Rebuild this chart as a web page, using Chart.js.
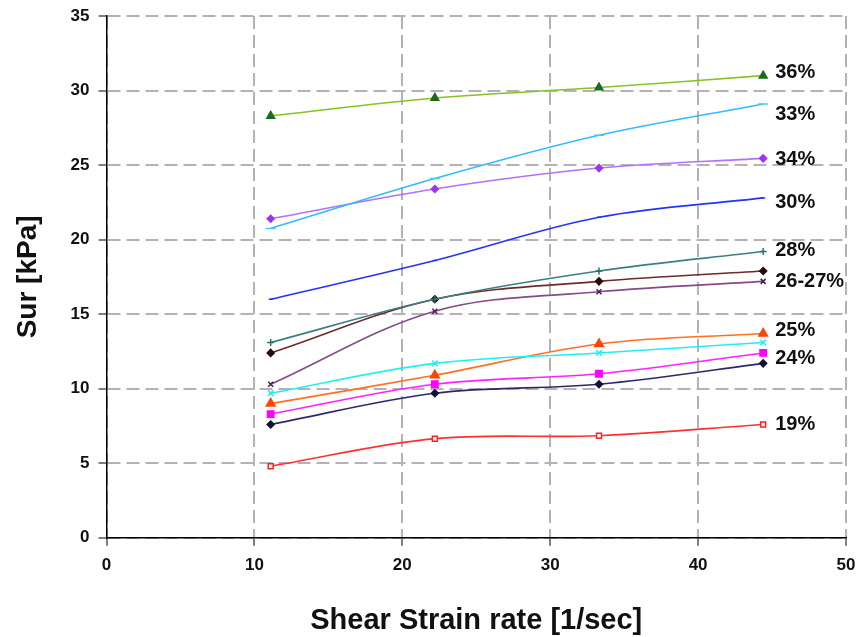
<!DOCTYPE html>
<html>
<head>
<meta charset="utf-8">
<script src="https://cdn.jsdelivr.net/npm/chart.js@4"></script>
<style>
  html, body { margin: 0; padding: 0; background: #fff; }
  #wrap { width: 856px; height: 637px; }
</style>
</head>
<body>
<div id="wrap"><canvas id="sur_chart"></canvas></div>
<script>
// shear strain rates (x) and undrained strength values (y) per water content
var strainRate = [11.1, 22.2, 33.3, 44.4];
var sur36 = [28.3, 29.5, 30.2, 31.0];
var sur33 = [20.75, 24.1, 27.0, 29.1];
var sur34 = [21.4, 23.4, 24.8, 25.45];
var sur30 = [16.0, 18.6, 21.5, 22.8];
var sur28 = [13.1, 16.0, 17.9, 19.2];
var sur27 = [12.4, 16.0, 17.2, 17.9];
var sur26 = [10.3, 15.2, 16.5, 17.2];
var surCyan = [9.7, 11.7, 12.4, 13.1];
var sur25 = [9.0, 10.9, 13.0, 13.7];
var sur24 = [8.3, 10.3, 11.0, 12.4];
var surNavy = [7.6, 9.7, 10.3, 11.7];
var sur19 = [4.8, 6.65, 6.85, 7.6];

// text labels written at the right end of the curves
var curveLabels = ["36%", "33%", "34%", "30%", "28%", "26-27%", "25%", "24%", "19%"];
var curveLabelY = [31.2, 28.4, 25.4, 22.5, 19.3, 17.2, 13.9, 12.0, 7.6];

function pts(ys) {
  return strainRate.map(function (x, i) { return { x: x, y: ys[i] }; });
}

function series(label, ys, line, marker, style, radius, fill) {
  return {
    label: label,
    data: pts(ys),
    borderColor: line,
    borderWidth: 1.6,
    tension: 0.35,
    fill: false,
    pointStyle: style,
    pointRadius: radius,
    pointBorderColor: marker,
    pointBackgroundColor: fill || marker,
    pointBorderWidth: 1.5
  };
}

var curveLabelPlugin = {
  id: 'curveLabels',
  afterDatasetsDraw: function (chart) {
    var c = chart.ctx;
    var xs = chart.scales.x, ys = chart.scales.y;
    c.save();
    c.font = 'bold 20px "Liberation Sans", Arial, sans-serif';
    c.fillStyle = '#111';
    c.textBaseline = 'middle';
    c.textAlign = 'left';
    var xPix = xs.getPixelForValue(strainRate[strainRate.length - 1]) + 12;
    curveLabels.forEach(function (t, i) {
      c.fillText(t, xPix, ys.getPixelForValue(curveLabelY[i]));
    });
    c.restore();
  }
};

var tickFont = { family: '"Liberation Sans", Arial, sans-serif', size: 17, weight: 'bold' };

var gridOpts = {
  color: '#b8b0b8',
  lineWidth: 2,
  tickColor: '#000',
  tickBorderDash: [],
  tickLength: 8,
  tickWidth: 1
};

var borderOpts = { display: true, color: '#000', width: 1.5, dash: [13, 6] };

var ctx = document.getElementById("sur_chart");

var surChart = new Chart(ctx, {
  type: 'line',
  data: {
    datasets: [
      series("36%", sur36, "#86c424", "#1b6b1b", "triangle", 4.5),
      series("33%", sur33, "#33bbff", "#44ccff", "line", 5),
      series("34%", sur34, "#b470ff", "#a033f0", "rectRot", 3.5),
      series("30%", sur30, "#2233ff", "#2233ff", "line", 2),
      series("28%", sur28, "#3a8080", "#2a7070", "cross", 3.5),
      series("27%", sur27, "#6e2a2a", "#2a0a0a", "rectRot", 3.5),
      series("26%", sur26, "#844a8c", "#4a1a50", "crossRot", 3.5),
      series("cyan", surCyan, "#22eef0", "#22eef0", "crossRot", 4),
      series("25%", sur25, "#ff7022", "#ff4400", "triangle", 5),
      series("24%", sur24, "#ff22ff", "#ff00ff", "rect", 4.5),
      series("navy", surNavy, "#2a2a6a", "#10103a", "rectRot", 3.5),
      series("19%", sur19, "#ff3030", "#ff2020", "rect", 3.5, "#ffffff")
    ]
  },
  options: {
    responsive: true,
    maintainAspectRatio: false,
    animation: false,
    layout: { padding: { left: 11, right: 10, top: 16, bottom: -1 } },
    plugins: {
      legend: { display: false },
      tooltip: { enabled: false }
    },
    scales: {
      x: {
        type: 'linear',
        min: 0,
        max: 50,
        afterFit: function (scale) { scale.paddingRight = 0; },
        ticks: { stepSize: 10, color: '#111', padding: 9, font: tickFont },
        grid: gridOpts,
        border: borderOpts,
        title: {
          display: true,
          text: 'Shear Strain rate [1/sec]',
          color: '#111',
          padding: { top: 19, bottom: 0 },
          font: { family: '"Liberation Sans", Arial, sans-serif', size: 29, weight: 'bold' }
        }
      },
      y: {
        min: 0,
        max: 35,
        afterFit: function (scale) { scale.paddingTop = 0; },
        ticks: { stepSize: 5, color: '#111', padding: 9, font: tickFont },
        grid: gridOpts,
        border: borderOpts,
        title: {
          display: true,
          text: 'Sur [kPa]',
          color: '#111',
          padding: { top: 0, bottom: 17 },
          font: { family: '"Liberation Sans", Arial, sans-serif', size: 28, weight: 'bold' }
        }
      }
    }
  },
  plugins: [curveLabelPlugin]
});
</script>
</body>
</html>
